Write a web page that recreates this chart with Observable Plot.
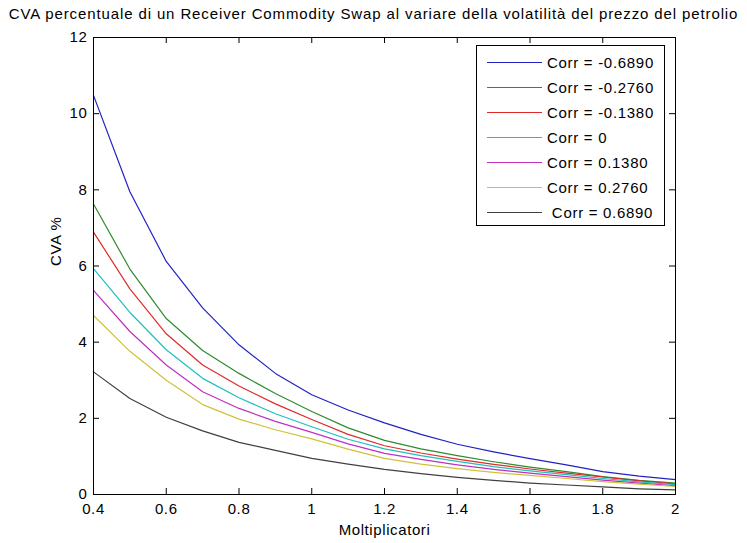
<!DOCTYPE html>
<html><head><meta charset="utf-8">
<script src="https://cdn.jsdelivr.net/npm/d3@7"></script>
<script src="https://cdn.jsdelivr.net/npm/@observablehq/plot@0.6"></script>
<style>
body{margin:0;background:#fff;}
#wrap{position:relative;width:747px;height:543px;overflow:hidden;font-family:"Liberation Sans",Arial,sans-serif;color:#000;}
#title{width:747px;height:26px;line-height:27px;text-align:center;font-size:15px;letter-spacing:0.88px;white-space:nowrap;}
#legend{position:absolute;left:476px;top:45px;width:189px;height:181px;border:1px solid #000;background:#fff;box-sizing:border-box;padding-top:4px;font-size:15px;letter-spacing:0.7px;}
.row{height:25px;display:flex;align-items:center;white-space:pre;}
.sw{display:inline-block;width:55px;margin-left:10px;margin-right:5px;border-top:1.2px solid;}
svg{display:block;}
</style></head>
<body>
<div id="wrap">
<div id="title">CVA percentuale di un Receiver Commodity Swap al variare della volatilità del prezzo del petrolio</div>
<div id="chart"></div>
<div id="legend"></div>
</div>
<script>
const multipliers = [0.4,0.5,0.6,0.7,0.8,0.9,1.0,1.1,1.2,1.3,1.4,1.5,1.6,1.7,1.8,1.9,2.0];
const seriesLabels = ["Corr = -0.6890","Corr = -0.2760","Corr = -0.1380","Corr = 0","Corr = 0.1380","Corr = 0.2760"," Corr = 0.6890"];
const seriesColors = ["#2222c4","#2e8b2e","#e02a2a","#1fbfbf","#bf30bf","#cfc23a","#404040"];
const corrM0689 = [10.48,7.95,6.12,4.90,3.93,3.18,2.62,2.22,1.88,1.58,1.32,1.12,0.94,0.78,0.60,0.48,0.39];
const corrM0276 = [7.63,5.92,4.62,3.78,3.18,2.65,2.18,1.75,1.42,1.20,1.02,0.86,0.72,0.60,0.47,0.37,0.30];
const corrM0138 = [6.89,5.40,4.22,3.40,2.85,2.38,1.97,1.58,1.28,1.09,0.93,0.79,0.67,0.56,0.46,0.36,0.28];
const corr0     = [5.93,4.78,3.80,3.05,2.54,2.12,1.78,1.45,1.20,1.02,0.87,0.73,0.62,0.52,0.42,0.33,0.26];
const corrP0138 = [5.36,4.28,3.40,2.70,2.26,1.92,1.63,1.33,1.08,0.92,0.78,0.66,0.56,0.47,0.38,0.30,0.23];
const corrP0276 = [4.70,3.76,3.00,2.36,1.98,1.70,1.46,1.19,0.95,0.80,0.68,0.58,0.50,0.42,0.34,0.27,0.21];
const corrP0689 = [3.22,2.52,2.03,1.67,1.37,1.16,0.95,0.80,0.66,0.55,0.45,0.37,0.30,0.25,0.20,0.15,0.12];
const xTicks = [0.4,0.6,0.8,1,1.2,1.4,1.6,1.8,2];
const yTicks = [0,2,4,6,8,10,12];
const xLabel = "Moltiplicatori";
const yLabel = "CVA %";

const allSeries = [corrM0689,corrM0276,corrM0138,corr0,corrP0138,corrP0276,corrP0689];
const rows = [];
allSeries.forEach((vals, i) => vals.forEach((v, j) => rows.push({x: multipliers[j], v, s: seriesLabels[i]})));

const W = 747, H = 517, mL = 93, mR = 72, mT = 11, mB = 49;
const plotW = W - mL - mR, plotH = H - mT - mB;
const fmt = d3.format("~g");

const chart = Plot.plot({
  width: W, height: H,
  marginLeft: mL, marginRight: mR, marginTop: mT, marginBottom: mB,
  style: {fontFamily: "Liberation Sans, Arial, sans-serif", fontSize: "15px", letterSpacing: "0.6px", color: "#000", background: "#fff", overflow: "visible"},
  x: {domain: [0.4, 2]},
  y: {domain: [0, 12]},
  color: {domain: seriesLabels, range: seriesColors},
  marks: [
    Plot.line(rows, {x: "x", y: "v", z: "s", stroke: "s", strokeWidth: 1.2}),
    Plot.frame({stroke: "#000", strokeWidth: 1}),
    Plot.tickY(yTicks, {y: d => d, insetRight: plotW - 6, stroke: "#000"}),
    Plot.tickY(yTicks, {y: d => d, insetLeft: plotW - 6, stroke: "#000"}),
    Plot.tickX(xTicks, {x: d => d, insetTop: plotH - 6, stroke: "#000"}),
    Plot.tickX(xTicks, {x: d => d, insetBottom: plotH - 6, stroke: "#000"}),
    Plot.axisX({ticks: xTicks, tickSize: 0, tickPadding: 9, tickFormat: fmt, label: null}),
    Plot.axisY({ticks: yTicks, tickSize: 0, tickPadding: 6, label: null}),
    Plot.text([xLabel], {text: d => d, frameAnchor: "bottom", dy: 36, lineAnchor: "middle", fill: "#000"}),
    Plot.text([yLabel], {text: d => d, frameAnchor: "left", dx: -37, rotate: -90, lineAnchor: "middle", fill: "#000"})
  ]
});
document.getElementById("chart").appendChild(chart);

const leg = document.getElementById("legend");
seriesLabels.forEach((lab, i) => {
  const r = document.createElement("div");
  r.className = "row";
  const sw = document.createElement("span");
  sw.className = "sw";
  sw.style.borderTopColor = seriesColors[i];
  const t = document.createElement("span");
  t.textContent = lab;
  r.appendChild(sw); r.appendChild(t);
  leg.appendChild(r);
});
</script>
</body></html>
